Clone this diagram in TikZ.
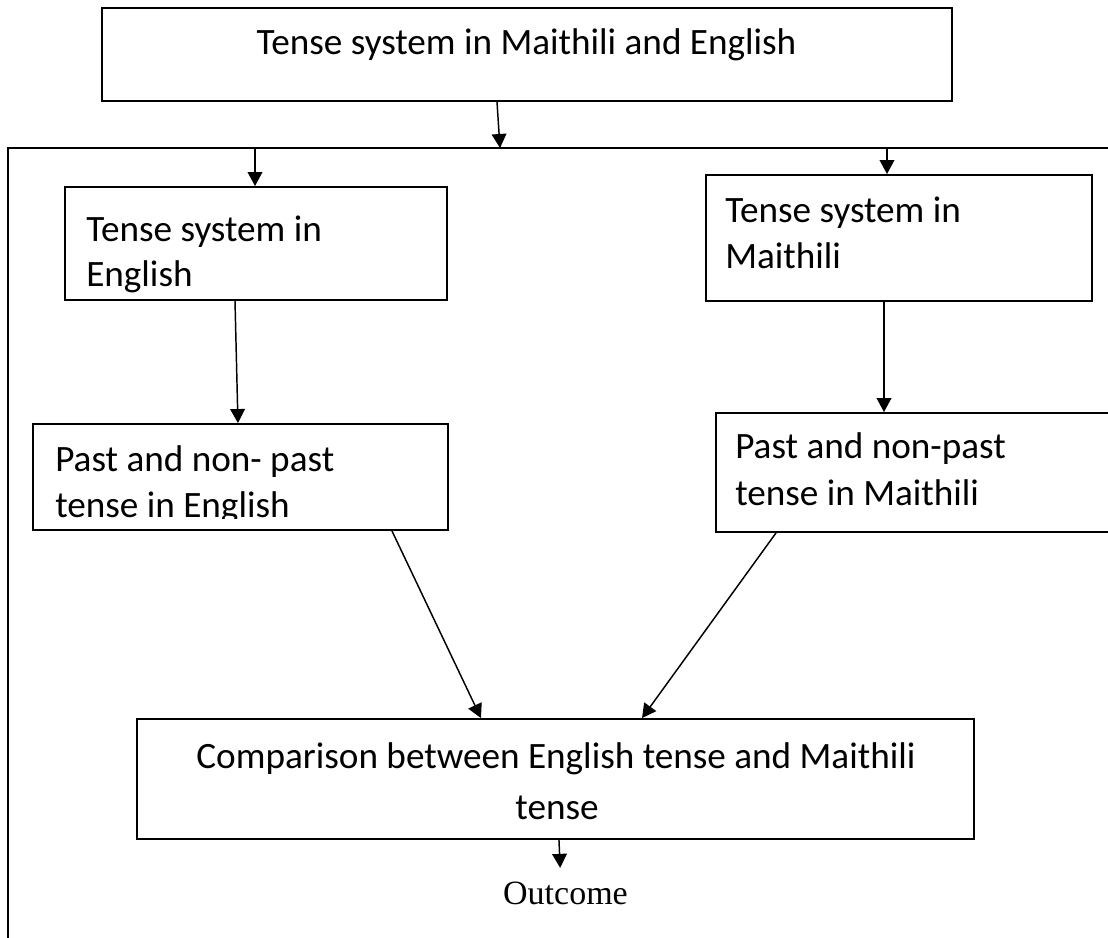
\documentclass[tikz,border=0pt]{standalone}
\usepackage{fontspec}
\setmainfont{Carlito}
\newfontfamily\outfont{Liberation Serif}
\usetikzlibrary{arrows.meta}
\begin{document}
\begin{tikzpicture}[x=0.75pt,y=-0.75pt,
  boxnode/.style={draw, line width=1.4pt, inner sep=0pt, rectangle},
  lbl/.style={inner sep=0pt, anchor=base west, font=\fontsize{27.9}{33}\selectfont},
  clbl/.style={inner sep=0pt, anchor=base, font=\fontsize{27.9}{33}\selectfont},
  arr/.style={line width=1.1pt, -{Triangle[length=10.5pt,width=11pt]}},
  framestyle/.style={line width=1.4pt}]
\useasboundingbox (0,0) rectangle (1108,938);

% outer frame (open to the right and bottom)
\draw[framestyle] (1125,148) -- (8,148) -- (8,955);
\coordinate (f0) at (500,148);
\coordinate (f1) at (255,148);
\coordinate (f2) at (887,148);

% boxes
\node[boxnode, minimum width=637.5pt, minimum height=69.75pt] (top) at (527,54.5) {};
\node[boxnode, minimum width=286.5pt, minimum height=84.75pt] (eng) at (256,243.5) {};
\node[boxnode, minimum width=289.5pt, minimum height=94.5pt] (mai) at (899,238) {};
\node[boxnode, minimum width=311.25pt, minimum height=79.5pt] (pe) at (240.5,477) {};
\node[boxnode, minimum width=303pt, minimum height=89.25pt] (pm) at (918,472.5) {};
\node[boxnode, minimum width=627.75pt, minimum height=90pt] (cmp) at (555.5,779) {};

% texts
\node[clbl] (ttop) at (526.5,55) {Tense system in Maithili and English};
\node[lbl] (te1) at (86,242) {Tense system in};
\node[lbl] (te2) at (86,287) {English};
\node[lbl] (tm1) at (725,223) {Tense system in};
\node[lbl] (tm2) at (725,269) {Maithili};
\node[lbl] (tpe1) at (55,471) {Past and non- past};
\begin{scope}
  \clip (40,485) rectangle (440,518);
  \node[lbl] (tpe2) at (55,517) {tense in English};
\end{scope}
\node[lbl] (tpm1) at (735,458) {Past and non-past};
\node[lbl] (tpm2) at (735,505) {tense in Maithili};
\node[clbl] (tc1) at (556,768) {Comparison between English tense and Maithili};
\node[clbl] (tc2) at (557,819) {tense};
\node[inner sep=0pt, anchor=base, font=\outfont\fontsize{25.5}{30}\selectfont] (out) at (565.5,904) {Outcome};

% connectors
\draw[arr] ([xshift=-22.5pt]top.south) -- (f0);
\draw[arr] (f1) -- (eng.north -| f1);
\draw[arr] (f2) -- (mai.north -| f2);
\draw[arr] ([xshift=-15.75pt]eng.south) -- ([xshift=-1.9pt]pe.north);
\draw[arr] ([xshift=-11.25pt]mai.south) -- ([xshift=-25.5pt]pm.north);
\draw[arr] ([xshift=113.6pt]pe.south) -- ([xshift=-55.9pt]cmp.north);
\draw[arr] ([xshift=-106.5pt]pm.south) -- ([xshift=64.9pt]cmp.north);
\draw[arr] ([xshift=2.6pt]cmp.south) -- ([xshift=-4pt,yshift=10pt]out.north);
\end{tikzpicture}
\end{document}
